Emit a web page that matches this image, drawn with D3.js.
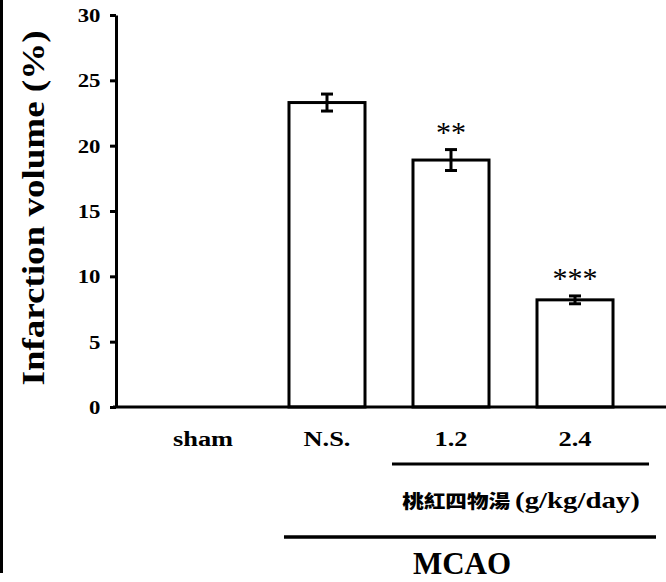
<!DOCTYPE html>
<html>
<head>
<meta charset="utf-8">
<script src="https://cdn.jsdelivr.net/npm/d3@7"></script>
<style>
body { margin: 0; background: #fff; }
svg text { font-family: "Times New Roman", "Liberation Serif", Times, serif; font-weight: 700; fill: #000; }
</style>
</head>
<body>
<div id="chart"></div>
<script>
var groups = ["sham", "N.S.", "1.2", "2.4"]
var means = [0, 23.3, 18.9, 8.2]
var errs = [0, 0.65, 0.8, 0.3]
var stars = ["", "", "**", "***"]
var yTicks = [0, 5, 10, 15, 20, 25, 30]

var w = 666, h = 582
var serif = "'Liberation Serif', 'Times New Roman', serif"

var svg = d3.select("#chart")
  .append("svg")
  .attr("width", w)
  .attr("height", h)

var x = d3.scaleBand()
  .domain(groups)
  .range([116, 662])
  .paddingInner(0.387)
  .paddingOuter(0.395)

var y = d3.scaleLinear()
  .domain([0, 30])
  .range([407, 15])

// thin frame line on the left edge
svg.append("rect")
  .attr("x", 0).attr("y", 0)
  .attr("width", 3).attr("height", 573)
  .attr("fill", "#000")

// y axis
var yAxis = svg.append("g")
  .attr("transform", "translate(116,0)")
  .call(d3.axisLeft(y).tickValues(yTicks).tickSize(6).tickSizeOuter(0))
yAxis.attr("font-family", null)
yAxis.select(".domain").attr("stroke-width", 3)
yAxis.selectAll(".tick line").attr("stroke-width", 3)
yAxis.selectAll(".tick text")
  .attr("x", -13)
  .attr("dy", "0.34em")
  .style("font-family", serif)
  .style("font-size", "19px")
  .attr("transform", "scale(1.2,1)")

// bars
svg.selectAll(".bar")
  .data(groups)
  .enter()
  .append("rect")
  .attr("class", "bar")
  .attr("x", function(d) { return x(d) })
  .attr("width", x.bandwidth())
  .attr("y", function(d, i) { return y(means[i]) })
  .attr("height", function(d, i) { return y(0) - y(means[i]) })
  .attr("fill", "#fff")
  .attr("stroke", "#000")
  .attr("stroke-width", 3)
  .style("display", function(d, i) { return means[i] > 0 ? null : "none" })

// error bars
var eb = svg.selectAll(".err")
  .data(groups.filter(function(d, i) { return errs[i] > 0 }))
  .enter()
  .append("g")
  .attr("class", "err")
  .attr("stroke", "#000")
  .attr("stroke-width", 3)
function ei(d) { return groups.indexOf(d) }
function cx(d) { return x(d) + x.bandwidth() / 2 }
eb.append("line")
  .attr("x1", cx).attr("x2", cx)
  .attr("y1", function(d) { return y(means[ei(d)] + errs[ei(d)]) })
  .attr("y2", function(d) { return y(means[ei(d)] - errs[ei(d)]) })
eb.append("line")
  .attr("x1", function(d) { return cx(d) - 6 }).attr("x2", function(d) { return cx(d) + 6 })
  .attr("y1", function(d) { return y(means[ei(d)] + errs[ei(d)]) })
  .attr("y2", function(d) { return y(means[ei(d)] + errs[ei(d)]) })
eb.append("line")
  .attr("x1", function(d) { return cx(d) - 6 }).attr("x2", function(d) { return cx(d) + 6 })
  .attr("y1", function(d) { return y(means[ei(d)] - errs[ei(d)]) })
  .attr("y2", function(d) { return y(means[ei(d)] - errs[ei(d)]) })

// significance stars
svg.selectAll(".star")
  .data(groups)
  .enter()
  .append("text")
  .attr("class", "star")
  .attr("x", cx)
  .attr("y", function(d, i) { return y(means[i] + errs[i]) - 8 })
  .attr("text-anchor", "middle")
  .style("font-family", serif)
  .style("font-weight", "400")
  .style("font-size", "30px")
  .text(function(d, i) { return stars[i] })

// x axis line
svg.append("line")
  .attr("x1", 113).attr("x2", 666)
  .attr("y1", y(0)).attr("y2", y(0))
  .attr("stroke", "#000")
  .attr("stroke-width", 3)

// category labels
svg.selectAll(".cat")
  .data(groups)
  .enter()
  .append("text")
  .attr("class", "cat")
  .attr("transform", function(d) { return "translate(" + cx(d) + ",446) scale(1.2,1)" })
  .attr("text-anchor", "middle")
  .style("font-family", serif)
  .style("font-size", "22px")
  .text(function(d) { return d })

// dose bracket
svg.append("line")
  .attr("x1", x("1.2") - 21).attr("x2", x("2.4") + x.bandwidth() + 36)
  .attr("y1", 464).attr("y2", 464)
  .attr("stroke", "#000").attr("stroke-width", 3)

var dose = svg.append("text")
  .attr("transform", "translate(521,508) scale(1.2,1)")
  .attr("text-anchor", "middle")
dose.append("tspan")
  .style("font-family", "'Noto Sans CJK TC', 'Noto Sans CJK SC', sans-serif")
  .style("font-size", "18px")
  .style("font-weight", "900")
  .text("桃紅四物湯 ")
dose.append("tspan")
  .style("font-family", serif)
  .style("font-size", "24px")
  .text("(g/kg/day)")

// MCAO bracket
svg.append("line")
  .attr("x1", x("N.S.") - 5).attr("x2", 656)
  .attr("y1", 537).attr("y2", 537)
  .attr("stroke", "#000").attr("stroke-width", 3.5)

svg.append("text")
  .attr("x", 462).attr("y", 574)
  .attr("text-anchor", "middle")
  .style("font-family", serif)
  .style("font-size", "31px")
  .text("MCAO")

// y title
svg.append("text")
  .attr("transform", "translate(44,208) rotate(-90)")
  .attr("text-anchor", "middle")
  .attr("textLength", 355)
  .attr("lengthAdjust", "spacingAndGlyphs")
  .style("font-family", serif)
  .style("font-size", "32px")
  .text("Infarction volume (%)")
</script>
</body>
</html>
